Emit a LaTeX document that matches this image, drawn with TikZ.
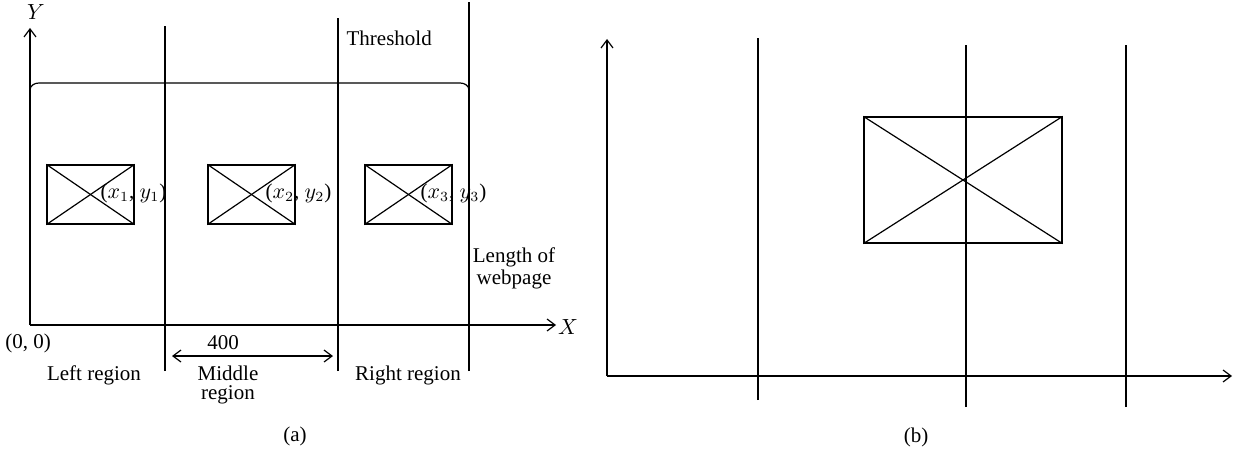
\documentclass[tikz,border=0pt]{standalone}
\usepackage{fontspec}
\setmainfont{Liberation Serif}
\usetikzlibrary{positioning,calc,arrows.meta}

\begin{document}
\begin{tikzpicture}[x=0.5pt,y=0.5pt,line width=0.6pt,
    >={Straight Barb[length=4pt,width=6pt]},
    lbl/.style={font=\fontsize{10.5}{9.5}\selectfont, inner sep=0pt, align=center},
    imgbox/.style={draw, minimum width=43.5pt, minimum height=29.5pt, inner sep=0pt},
    bigbox/.style={draw, minimum width=99pt, minimum height=63pt, inner sep=0pt}]
    \useasboundingbox (0,0) rectangle (1237,451);

    % (a) axes
    \coordinate (oa) at (30,126);
    \coordinate (ya) at (30,423);
    \coordinate (xa) at (556,126);
    \draw[->] (oa) -- (ya);
    \draw[->] (oa) -- (xa);
    \node[lbl] (ylab) at (36,439) {$Y$};
    \node[lbl] (xlab) at (568,124) {$X$};
    \node[lbl] (orig) at (28,108) {(0, 0)};

    % region borders
    \coordinate (l1b) at (165,80);  \coordinate (l1t) at (165,425);
    \coordinate (l2b) at (338,80);  \coordinate (l2t) at (338,433);
    \coordinate (l3b) at (469,80);  \coordinate (l3t) at (469,449);
    \draw (l1b) -- (l1t);
    \draw (l2b) -- (l2t);
    \draw (l3b) -- (l3t);

    % brace over the page
    \coordinate (bl) at (30,361);
    \coordinate (br) at (469,361);
    \draw (bl) to[out=90,in=180] ++(9,7) -- ($(br)+(-9,7)$) to[out=0,in=90] (br);

    % images
    \node[imgbox] (im1) at (90.5,256.5) {};
    \node[imgbox] (im2) at (251.5,256.5) {};
    \node[imgbox] (im3) at (408.5,256.5) {};
    \foreach \i in {1,2,3} {
        \draw (im\i.north west) -- (im\i.south east);
        \draw (im\i.south west) -- (im\i.north east);
    }
    \node[lbl, anchor=west] (p1) at (100,258) {($x_1$, $y_1$)};
    \node[lbl, anchor=west] (p2) at (265,258) {($x_2$, $y_2$)};
    \node[lbl, anchor=west] (p3) at (420,258) {($x_3$, $y_3$)};

    \node[lbl, anchor=west] (thr) at (346,413) {Threshold};
    \node[lbl, font=\fontsize{10.5}{11}\selectfont] (len) at (514,183) {Length of\\webpage};

    % width of middle region
    \coordinate (wl) at (172,95);
    \coordinate (wr) at (333,95);
    \draw[<->] (wl) -- (wr);
    \node[lbl] (w) at (223,108) {400};

    \node[lbl] (left) at (94,76) {Left region};
    \node[lbl] (mid) at (228,66) {Middle\\region};
    \node[lbl] (right) at (408,76) {Right region};
    \node[lbl] (capa) at (295,15) {(a)};

    % (b) axes
    \coordinate (ob) at (607,75);
    \coordinate (yb) at (607,412);
    \coordinate (xb) at (1232,75);
    \draw[->] (ob) -- (yb);
    \draw[->] (ob) -- (xb);

    \coordinate (m1b) at (758,51);   \coordinate (m1t) at (758,413);
    \coordinate (m2b) at (966,44);   \coordinate (m2t) at (966,406);
    \coordinate (m3b) at (1126,44);  \coordinate (m3t) at (1126,406);
    \draw (m1b) -- (m1t);
    \draw (m2b) -- (m2t);
    \draw (m3b) -- (m3t);

    \node[bigbox] (im) at (963,271) {};
    \draw (im.north west) -- (im.south east);
    \draw (im.south west) -- (im.north east);
    \node[lbl] (capb) at (916,14) {(b)};
\end{tikzpicture}
\end{document}
